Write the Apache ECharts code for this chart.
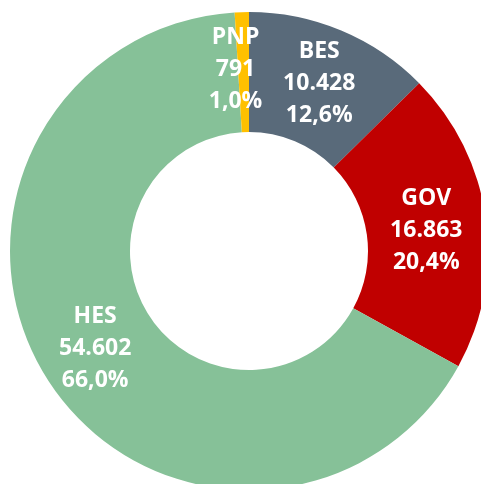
<!DOCTYPE html>
<html>
<head>
<meta charset="utf-8">
<script src="https://cdn.jsdelivr.net/npm/echarts@6/dist/echarts.min.js"></script>
<style>
  html, body { margin: 0; padding: 0; background: #fff; }
  #chart { width: 481px; height: 484px; }
</style>
</head>
<body>
<div id="chart"></div>
<script>
// 数据
const categories = ["BES", "GOV", "HES", "PNP"];
const values = [10428, 16863, 54602, 791];
const valueLabels = ["10.428", "16.863", "54.602", "791"];
const shareLabels = ["12,6%", "20,4%", "66,0%", "1,0%"];
const colors = ["#596a7a", "#c00000", "#86c198", "#ffc000"];

const chart = echarts.init(document.getElementById("chart"), null, { renderer: "canvas" });

const data = categories.map((name, i) => ({
  name: name,
  value: values[i],
  itemStyle: { color: colors[i] },
  label: { formatter: name + "\n" + valueLabels[i] + "\n" + shareLabels[i] }
}));
// PNP 标签稍微往左, GOV 稍微往下
data[3].label.offset = [-8, 0];
data[1].label.offset = [-3, 4];

chart.setOption({
  animation: false,
  series: [{
    type: "pie",
    center: [249, 251],
    radius: [119, 239],
    startAngle: 90,
    clockwise: true,
    avoidLabelOverlap: false,
    label: {
      show: true,
      position: "inside",
      color: "#fff",
      fontFamily: "Open Sans",
      fontWeight: "bold",
      fontSize: 23,
      lineHeight: 32,
      textBorderWidth: 0
    },
    labelLine: { show: false },
    emphasis: { disabled: true },
    data: data
  }]
});
</script>
</body>
</html>
